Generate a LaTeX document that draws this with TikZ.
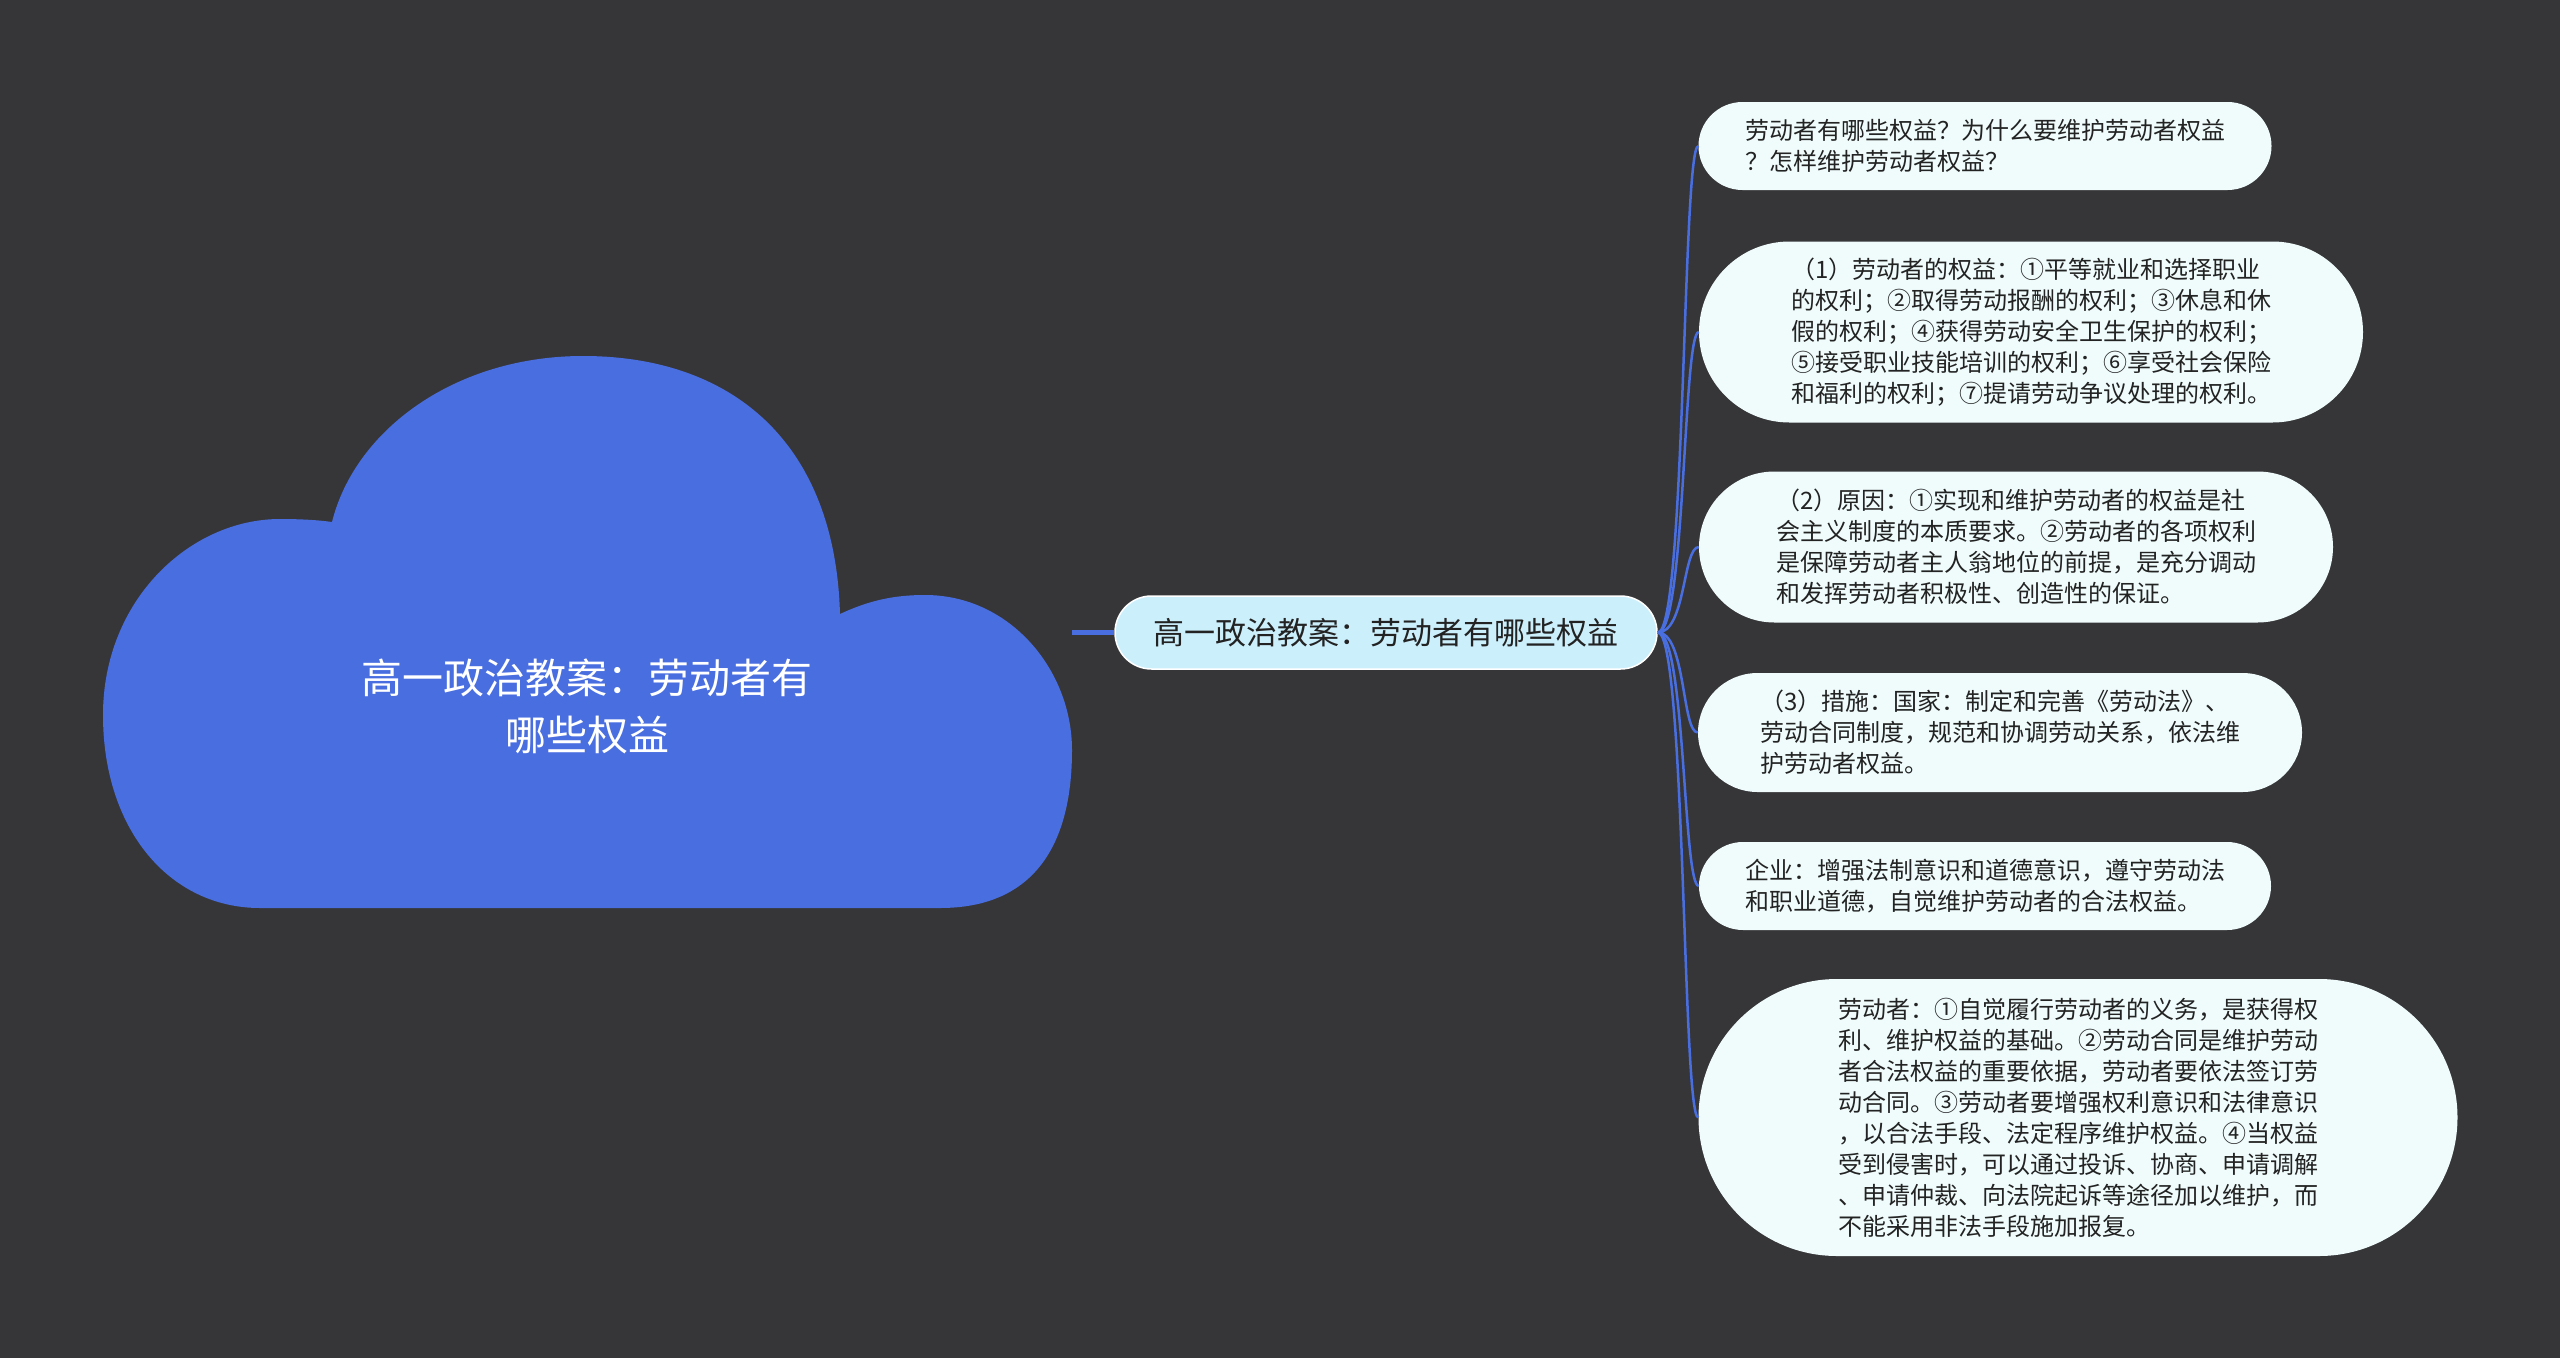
\documentclass[tikz,border=0pt]{standalone}
\usepackage{fontspec}
\newfontfamily\cjk{Noto Sans CJK SC}
\definecolor{bg}{RGB}{54,54,56}
\definecolor{blu}{RGB}{73,110,224}
\definecolor{cen}{RGB}{204,239,252}
\definecolor{leaffill}{RGB}{240,252,252}
\definecolor{txt}{RGB}{35,35,35}
\begin{document}
\begin{tikzpicture}[x=1pt,y=-1pt,
  leaf/.style={fill=leaffill, draw=none, align=left, text=txt, inner sep=0pt,
    font=\cjk\fontsize{24}{31}\selectfont},
  centre/.style={fill=cen, draw=white, line width=1.5pt, text=txt, inner sep=0pt,
    font=\cjk\fontsize{31}{36}\selectfont},
  conn/.style={draw=blu, line width=2.5pt},
]
\fill[bg] (0,0) rectangle (2560,1358);
\useasboundingbox (0,0) rectangle (2560,1358);

% cloud
\fill[blu] (332,522) .. controls (355,430) and (455,356) .. (583,356)
  .. controls (730,356) and (835,440) .. (840,614)
  .. controls (870,600) and (895,595) .. (925,595)
  .. controls (1010,595) and (1072,670) .. (1072,750)
  .. controls (1072,850) and (1030,908) .. (940,908)
  -- (260,908)
  .. controls (170,908) and (103,830) .. (103,715)
  .. controls (103,600) and (190,519) .. (280,519)
  .. controls (300,519) and (318,520) .. (332,522) -- cycle;
\node[font=\cjk\fontsize{41}{57}\selectfont, text=white, align=center] (root) at (587,706)
  {高一政治教案：劳动者有\\哪些权益};

% central
\node[centre, minimum width=542pt, minimum height=73pt, rounded corners=36.5pt] (c) at (1386,632.5)
  {高一政治教案：劳动者有哪些权益};
\coordinate (stub) at (1072,632.5);
\draw[conn, line width=5pt] (stub) -- (c.west);

% leaves
\node[leaf, minimum width=573pt, minimum height=88pt, rounded corners=44pt] (n1) at (1985,146)
  {劳动者有哪些权益？为什么要维护劳动者权益\\？怎样维护劳动者权益？};
\node[leaf, minimum width=664pt, minimum height=181pt, rounded corners=90.5pt] (n2) at (2031,332)
  {（1）劳动者的权益：①平等就业和选择职业\\的权利；②取得劳动报酬的权利；③休息和休\\假的权利；④获得劳动安全卫生保护的权利；\\⑤接受职业技能培训的权利；⑥享受社会保险\\和福利的权利；⑦提请劳动争议处理的权利。};
\node[leaf, minimum width=634pt, minimum height=151pt, rounded corners=75.5pt] (n3) at (2016,547)
  {（2）原因：①实现和维护劳动者的权益是社\\会主义制度的本质要求。②劳动者的各项权利\\是保障劳动者主人翁地位的前提，是充分调动\\和发挥劳动者积极性、创造性的保证。};
\node[leaf, minimum width=604pt, minimum height=119pt, rounded corners=59.5pt] (n4) at (2000,732.5)
  {（3）措施：国家：制定和完善《劳动法》、\\劳动合同制度，规范和协调劳动关系，依法维\\护劳动者权益。};
\node[leaf, minimum width=572pt, minimum height=88pt, rounded corners=44pt] (n5) at (1985,886)
  {企业：增强法制意识和道德意识，遵守劳动法\\和职业道德，自觉维护劳动者的合法权益。};
\node[leaf, minimum width=759pt, minimum height=277pt, rounded corners=138.5pt] (n6) at (2078,1117.5)
  {劳动者：①自觉履行劳动者的义务，是获得权\\利、维护权益的基础。②劳动合同是维护劳动\\者合法权益的重要依据，劳动者要依法签订劳\\动合同。③劳动者要增强权利意识和法律意识\\，以合法手段、法定程序维护权益。④当权益\\受到侵害时，可以通过投诉、协商、申请调解\\、申请仲裁、向法院起诉等途径加以维护，而\\不能采用非法手段施加报复。};

\foreach \n in {n1,n2,n3,n4,n5,n6}
  \draw[conn] (c.east) .. controls +(28,0) and +(-16,0) .. (\n.west);
\end{tikzpicture}
\end{document}
